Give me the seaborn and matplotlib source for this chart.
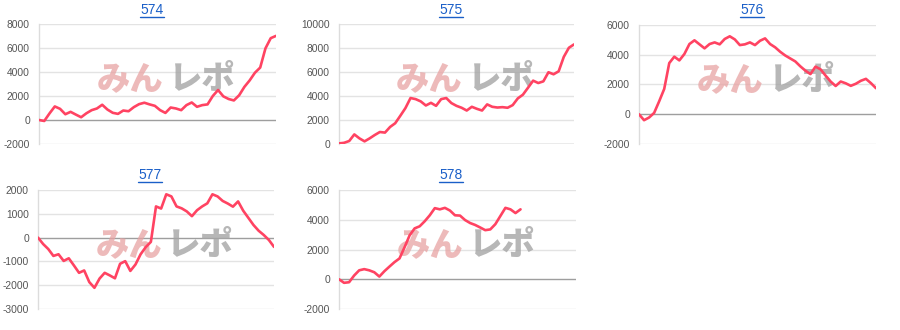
import numpy as np
import pandas as pd
import matplotlib
matplotlib.use("Agg")
import matplotlib.pyplot as plt
from matplotlib.lines import Line2D
import seaborn as sns

# ---- data ----
titles = ["574", "575", "576", "577", "578"]

s574 = [0, -80, 550, 1130, 930, 480, 680, 450, 230, 560, 820, 960, 1270, 870, 600,
        510, 790, 730, 1070, 1320, 1440, 1300, 1180, 820, 590, 1040, 960, 820, 1240,
        1460, 1100, 1240, 1300, 2000, 2500, 1970, 1750, 1630, 2060, 2760, 3300, 3940,
        4370, 5970, 6820, 7010]

s575 = [50, 100, 250, 800, 470, 220, 470, 750, 1000, 950, 1420, 1730, 2350, 2990,
        3830, 3740, 3550, 3210, 3430, 3180, 3740, 3830, 3410, 3180, 3020, 2790, 3100,
        2930, 2790, 3300, 3100, 3040, 3070, 3020, 3240, 3800, 4110, 4690, 5280, 5080,
        5220, 5980, 5810, 6060, 7260, 8020, 8300]

s576 = [0, -400, -220, 90, 870, 1700, 3440, 3870, 3620, 4050, 4720, 4970, 4700, 4430,
        4720, 4830, 4700, 5060, 5240, 5030, 4650, 4700, 4830, 4650, 4940, 5100, 4720,
        4500, 4200, 3950, 3750, 3550, 3220, 2930, 2700, 3200, 3020, 2600, 2200, 1900,
        2200, 2080, 1910, 2050, 2250, 2380, 2090, 1750]

s577 = [0, -270, -480, -770, -700, -980, -870, -1170, -1480, -1380, -1870, -2110,
        -1720, -1480, -1590, -1710, -1100, -990, -1400, -1130, -700, -400, -180, 1310,
        1220, 1820, 1730, 1310, 1230, 1100, 900, 1150, 1310, 1440, 1820, 1730, 1540,
        1430, 1300, 1520, 1130, 830, 530, 290, 110, -100, -390]

s578 = [0, -240, -200, 250, 600, 680, 600, 470, 180, 540, 850, 1150, 1400, 2150, 2950,
        3420, 3560, 3900, 4300, 4780, 4700, 4800, 4620, 4300, 4280, 3980, 3780, 3650,
        3480, 3300, 3350, 3700, 4250, 4800, 4700, 4450, 4700]

series = [s574, s575, s576, s577, s578]
y_limits = [(-2000, 8000), (0, 10000), (-2000, 6000), (-3000, 2000), (-2000, 6000)]
y_steps = [2000, 2000, 2000, 1000, 2000]
x_spans = [len(s574) - 1, len(s575) - 1, len(s576) - 1, len(s577) - 1, 47]

# ---- style ----
sns.set_theme(style="white")
plt.rcParams["font.family"] = ["Liberation Sans", "Noto Sans CJK JP", "DejaVu Sans"]

W, H = 900, 330
fig = plt.figure(figsize=(9, 3.3), dpi=100)

# axes rectangles in pixels: left, top, right, bottom
rects = [(39, 24, 276, 144), (339, 24, 574, 144), (639, 25, 876, 144),
         (38, 190, 274, 309), (339, 190, 576, 309)]
title_pos = [(152, 10), (451, 10), (752, 10), (150, 175), (451, 175)]

line_color = "#ff4362"
title_color = "#1a5fc8"
title_texts = []

for k in range(5):
    l, t, r, b = rects[k]
    ax = fig.add_axes([l / W, 1 - b / H, (r - l) / W, (b - t) / H])
    df = pd.DataFrame({"x": np.arange(len(series[k])), "y": series[k]})
    sns.lineplot(data=df, x="x", y="y", ax=ax, color=line_color, linewidth=1.9,
                 zorder=5)
    lo, hi = y_limits[k]
    ax.set_ylim(lo, hi)
    ax.set_xlim(0, x_spans[k])
    ticks = np.arange(lo, hi + 1, y_steps[k])
    ax.set_yticks(ticks)
    ax.set_yticklabels([str(int(v)) for v in ticks])
    ax.set_xticks([])
    ax.set_xlabel("")
    ax.set_ylabel("")
    for v in ticks:
        ax.axhline(v, color="#9e9e9e" if v == 0 else "#e3e3e3",
                   linewidth=1.0, zorder=1)
    for s in ["top", "right", "bottom"]:
        ax.spines[s].set_visible(False)
    ax.spines["left"].set_color("#dcdcdc")
    ax.spines["left"].set_linewidth(1.0)
    ax.tick_params(axis="y", length=0, pad=6.5, labelsize=7.4, labelcolor="#555555")
    ax.patch.set_alpha(0)

    # watermark
    ax.text(0.385, 0.545, "みん", transform=ax.transAxes, ha="center", va="center",
            fontsize=24, fontweight="black", color="#e8a3a3", alpha=0.75,
            family=["Noto Sans CJK JP"], zorder=2)
    ax.text(0.69, 0.545, "レポ", transform=ax.transAxes, ha="center", va="center",
            fontsize=24, fontweight="black", color="#a5a5a5", alpha=0.8,
            family=["Noto Sans CJK JP"], zorder=2)

    tx, ty = title_pos[k]
    tt = fig.text(tx / W, 1 - ty / H, titles[k], ha="center", va="center",
                  fontsize=10, color=title_color)
    title_texts.append(tt)

# underline the link-style titles
fig.canvas.draw()
renderer = fig.canvas.get_renderer()
for tt in title_texts:
    bb = tt.get_window_extent(renderer)
    x0, x1 = bb.x0 / W, bb.x1 / W
    yl = (bb.y0 + 0.5) / H
    fig.add_artist(Line2D([x0, x1], [yl, yl], color=title_color, linewidth=1.0,
                          transform=fig.transFigure))

fig.savefig("out.png", dpi=100)
